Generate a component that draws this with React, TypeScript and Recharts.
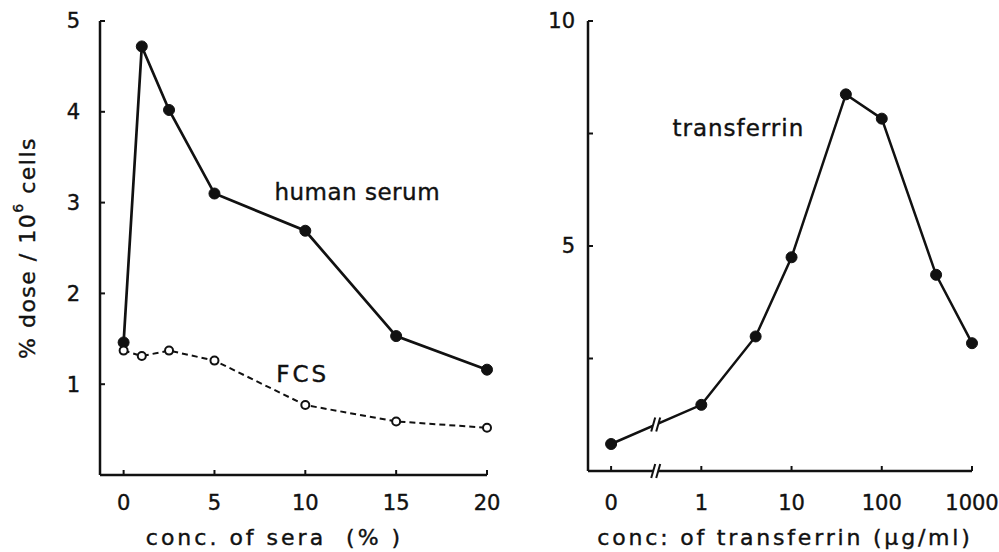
import React from "react";
import { LineChart, Line, XAxis, YAxis, ReferenceDot } from "recharts";

// left panel: sera concentration (%)
const seraConc = [0, 1, 2.5, 5, 10, 15, 20];
const humanSerum = [1.46, 4.72, 4.02, 3.1, 2.69, 1.53, 1.16];
const fcs = [1.37, 1.31, 1.37, 1.26, 0.77, 0.59, 0.52];
const seraTicks = [0, 5, 10, 15, 20];
const doseTicks = [1, 2, 3, 4, 5];

// right panel: transferrin concentration (ug/ml), log axis with a break before 1
const tfConc = [0, 1, 4, 10, 40, 100, 400, 1000];
const tfValues = [0.6, 1.47, 2.99, 4.75, 8.37, 7.83, 4.36, 2.84];
const tfTicks = [0, 1, 10, 100, 1000];
const tfYTicks = [2.5, 5, 7.5, 10];

// 0 sits one decade below 1
const toPos = (c: number) => (c === 0 ? -1 : Math.log10(c));

const seraData = seraConc.map((c, i) => ({ x: c, human: humanSerum[i], fcs: fcs[i] }));
const tfData = tfConc.map((c, i) => ({ x: toPos(c), y: tfValues[i] }));

const FONT = "'DejaVu Sans', sans-serif";
const INK = "#111";

const tickStyle = { fill: INK, fontSize: 21, fontFamily: FONT, stroke: INK, strokeWidth: 0.4 };
const axisLine = { stroke: INK, strokeWidth: 2.5 };
const tickLine = { stroke: INK, strokeWidth: 2 };

const AxisTitle = (props: any) => {
  const { viewBox, text, dx = 0, dy = 0, spacing = 3 } = props;
  return (
    <text
      x={viewBox.x + viewBox.width / 2 + dx}
      y={viewBox.y + dy}
      textAnchor="middle"
      fill={INK}
      stroke={INK}
      strokeWidth={0.4}
      fontSize={22}
      fontFamily={FONT}
      letterSpacing={spacing}
      style={{ whiteSpace: "pre" }}
    >
      {text}
    </text>
  );
};

const DoseLabel = (props: any) => {
  const { viewBox } = props;
  const cx = viewBox.x + 27;
  const cy = viewBox.y + viewBox.height / 2;
  return (
    <text
      x={cx}
      y={cy}
      transform={`rotate(-90, ${cx}, ${cy})`}
      textAnchor="middle"
      dominantBaseline="central"
      fill={INK}
      stroke={INK}
      strokeWidth={0.4}
      fontSize={22}
      fontFamily={FONT}
      letterSpacing={1.5}
    >
      % dose / 10
      <tspan dy={-9} fontSize={14}>6</tspan>
      <tspan dy={9}> cells</tspan>
    </text>
  );
};

const note = (text: string, spacing: number) => (props: any) => (
  <text
    x={props.cx}
    y={props.cy}
    fill={INK}
    stroke={INK}
    strokeWidth={0.4}
    fontSize={23}
    fontFamily={FONT}
    letterSpacing={spacing}
  >
    {text}
  </text>
);

const BreakMark = (props: any) => {
  const { cx, cy } = props;
  return (
    <g>
      <polygon
        points={`${cx - 5},${cy + 7} ${cx - 1},${cy - 7} ${cx + 4},${cy - 7} ${cx},${cy + 7}`}
        fill="#fff"
      />
      <line x1={cx - 5} y1={cy + 7} x2={cx - 1} y2={cy - 7} stroke={INK} strokeWidth={2} />
      <line x1={cx} y1={cy + 7} x2={cx + 4} y2={cy - 7} stroke={INK} strokeWidth={2} />
    </g>
  );
};

export default function App() {
  return (
    <div style={{ position: "absolute", left: 0, top: 0, width: 999, height: 552, background: "#fff" }}>
      <div style={{ position: "absolute", left: 0, top: 0 }}>
        <LineChart width={520} height={552} data={seraData} margin={{ top: 21, right: 33, bottom: 0, left: 0 }}>
          <XAxis
            dataKey="x"
            type="number"
            domain={[-1.3, 20]}
            ticks={seraTicks}
            interval={0}
            height={77}
            tick={tickStyle}
            tickSize={-5}
            tickMargin={25}
            axisLine={axisLine}
            tickLine={tickLine}
            label={<AxisTitle text="conc. of sera  (% )" dx={-19} dy={70} spacing={3} />}
          />
          <YAxis
            type="number"
            domain={[0, 5]}
            ticks={doseTicks}
            interval={0}
            width={100}
            tick={tickStyle}
            tickSize={-5}
            tickMargin={25}
            axisLine={axisLine}
            tickLine={tickLine}
            label={<DoseLabel />}
          />
          <Line
            dataKey="human"
            stroke={INK}
            strokeWidth={2.7}
            dot={{ r: 5.5, fill: INK, stroke: INK, strokeWidth: 1 }}
            isAnimationActive={false}
          />
          <Line
            dataKey="fcs"
            stroke={INK}
            strokeWidth={2}
            strokeDasharray="6 4"
            dot={{ r: 4, fill: "#fff", stroke: INK, strokeWidth: 2, strokeDasharray: "" }}
            isAnimationActive={false}
          />
          <ReferenceDot x={8.3} y={3.03} r={0} shape={note("human serum", 0.5)} />
          <ReferenceDot x={8.4} y={1.02} r={0} shape={note("FCS", 3)} />
        </LineChart>
      </div>
      <div style={{ position: "absolute", left: 500, top: 0 }}>
        <LineChart width={499} height={552} data={tfData} margin={{ top: 21, right: 27, bottom: 0, left: 0 }}>
          <XAxis
            dataKey="x"
            type="number"
            domain={[-1.256, 3]}
            ticks={tfTicks.map(toPos)}
            tickFormatter={(v: number) => String(tfTicks[tfTicks.map(toPos).indexOf(v)])}
            interval={0}
            height={81}
            tick={tickStyle}
            tickSize={-5}
            tickMargin={29}
            axisLine={axisLine}
            tickLine={tickLine}
            label={<AxisTitle text="conc: of transferrin (µg/ml)" dx={5} dy={74} spacing={2.8} />}
          />
          <YAxis
            type="number"
            domain={[0, 10]}
            ticks={tfYTicks}
            interval={0}
            tickFormatter={(v: number) => (Number.isInteger(v) ? String(v) : "")}
            width={88}
            tick={tickStyle}
            tickSize={-5}
            tickMargin={18}
            axisLine={axisLine}
            tickLine={tickLine}
          />
          <Line
            dataKey="y"
            stroke={INK}
            strokeWidth={2.5}
            dot={{ r: 5.5, fill: INK, stroke: INK, strokeWidth: 1 }}
            isAnimationActive={false}
          />
          <ReferenceDot x={-0.32} y={7.45} r={0} shape={note("transferrin", 1)} />
          <ReferenceDot x={-0.5} y={(tfValues[0] + tfValues[1]) / 2} r={0} shape={BreakMark} />
          <ReferenceDot x={-0.5} y={0} r={0} shape={BreakMark} ifOverflow="visible" />
        </LineChart>
      </div>
    </div>
  );
}
